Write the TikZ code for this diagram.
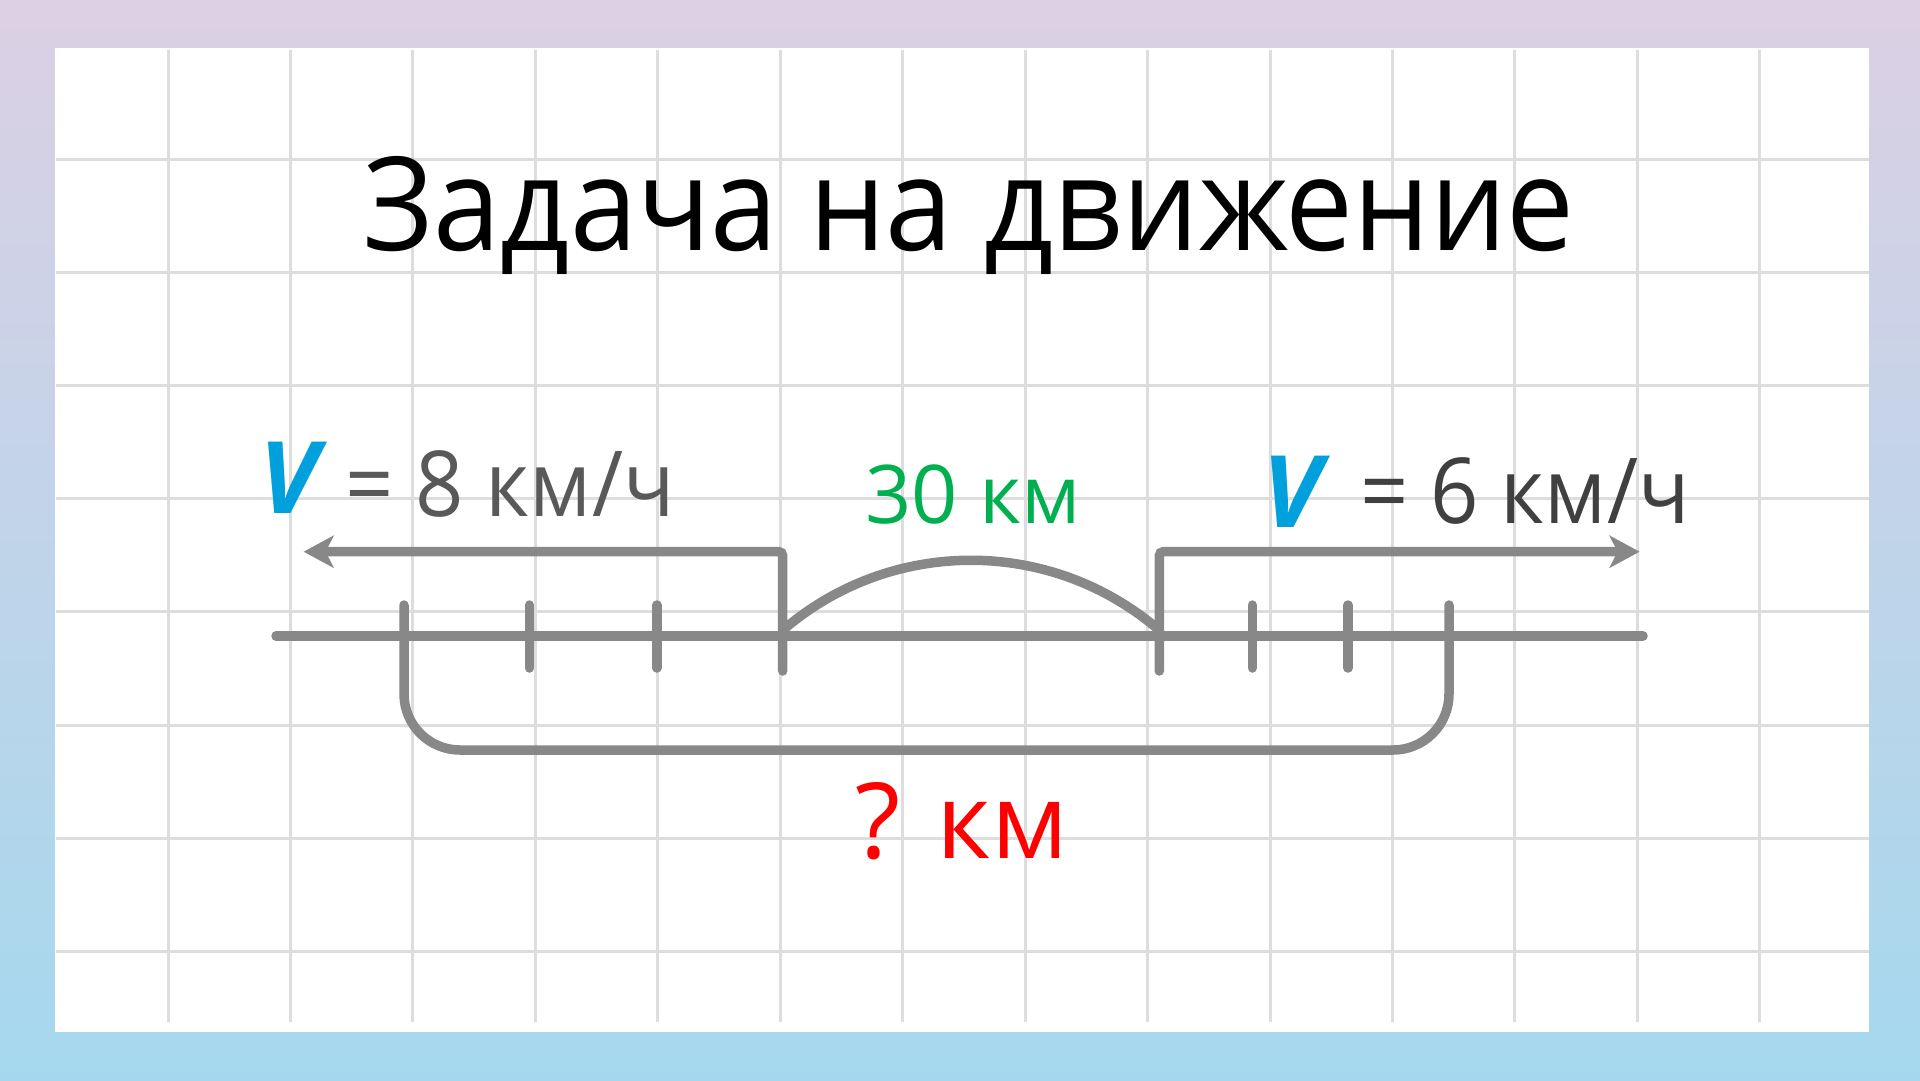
\documentclass[tikz,border=0pt]{standalone}
\usepackage{fontspec}
\setmainfont{Open Sans}
\usetikzlibrary{arrows.meta}
\definecolor{bgtop}{HTML}{DCD0E4}
\definecolor{bgmid}{HTML}{D2D8F2}
\definecolor{bgbot}{HTML}{A5D8EE}
\definecolor{gridc}{HTML}{DDDDDD}
\definecolor{linec}{HTML}{888888}
\definecolor{txtl}{HTML}{595959}
\definecolor{txtr}{HTML}{404040}
\definecolor{vblue}{HTML}{00A0DC}
\definecolor{kmgreen}{HTML}{00B050}
\definecolor{kmred}{HTML}{FF0000}
\begin{document}
\begin{tikzpicture}[x=1pt,y=-1pt,
  gridline/.style={draw=gridc,line width=3pt},
  diag/.style={draw=linec,line width=9.5pt,line cap=round},
  tip/.style={-{Stealth[length=30pt,width=32pt,inset=8pt]}},
  lbl/.style={inner sep=0pt,anchor=base west},
]
\useasboundingbox (0,0) rectangle (1920,1080);
\shade[top color=bgtop,middle color=bgmid,bottom color=bgbot] (0,0) rectangle (1920,1080);
\fill[white] (55,48) rectangle (1869,1032);
\foreach \i in {0,...,13}
  \draw[gridline] ({168+122.45*\i},50) -- ({168+122.45*\i},1022);
\foreach \j in {0,...,7}
  \draw[gridline] (56,{159+113.2*\j}) -- (1869,{159+113.2*\j});

% number line
\coordinate (mainL) at (276,636);
\coordinate (mainR) at (1643,636);
\draw[diag] (mainL) -- (mainR);
\foreach \x [count=\k] in {529.4,656.8,1252.3,1348}{
  \coordinate (tt\k) at (\x,605);
  \coordinate (tb\k) at (\x,668);
  \draw[diag] (tt\k) -- (tb\k);
}
% bracket
\coordinate (brL) at (404,605);
\coordinate (brLB) at (404,750);
\coordinate (brRB) at (1449,750);
\coordinate (brR) at (1449,605);
\draw[diag,rounded corners=56pt] (brL) -- (brLB) -- (brRB) -- (brR);
% arrows
\coordinate (lbot) at (782.7,671);
\coordinate (lcor) at (782.7,551.7);
\coordinate (ltip) at (303.6,551.7);
\draw[diag,tip,rounded corners=4pt] (lbot) -- (lcor) -- (ltip);
\coordinate (rbot) at (1159.3,671);
\coordinate (rcor) at (1159.3,551.7);
\coordinate (rtip) at (1639.6,551.7);
\draw[diag,tip,rounded corners=4pt] (rbot) -- (rcor) -- (rtip);
% arc
\coordinate (arcL) at (783,630);
\coordinate (arcR) at (1159,630);
\draw[diag] (arcL) .. controls (891,537) and (1051,537) .. (arcR);

% texts
\node[inner sep=0pt,anchor=base] (title) at (969,250)
  {\scalebox{0.93}[1]{\fontsize{130}{156}\selectfont Задача на движение}};
\node[lbl,text=vblue] (vl) at (259,513)
  {\fontsize{100}{120}\selectfont\bfseries\itshape V};
\node[lbl,text=txtl] (sl) at (345,516)
  {\scalebox{0.93}[1]{\fontsize{91}{110}\selectfont = 8 км/ч}};
\node[lbl,text=vblue] (vr) at (1262,527)
  {\fontsize{100}{120}\selectfont\bfseries\itshape V};
\node[lbl,text=txtr] (sr) at (1360,523)
  {\scalebox{0.93}[1]{\fontsize{91}{110}\selectfont = 6 км/ч}};
\node[inner sep=0pt,anchor=base,text=kmgreen] (dist) at (973,523)
  {\fontsize{81}{97}\selectfont 30 км};
\node[lbl,text=kmred] (ask) at (855,858)
  {\fontsize{105}{126}\selectfont ? км};
\end{tikzpicture}
\end{document}
